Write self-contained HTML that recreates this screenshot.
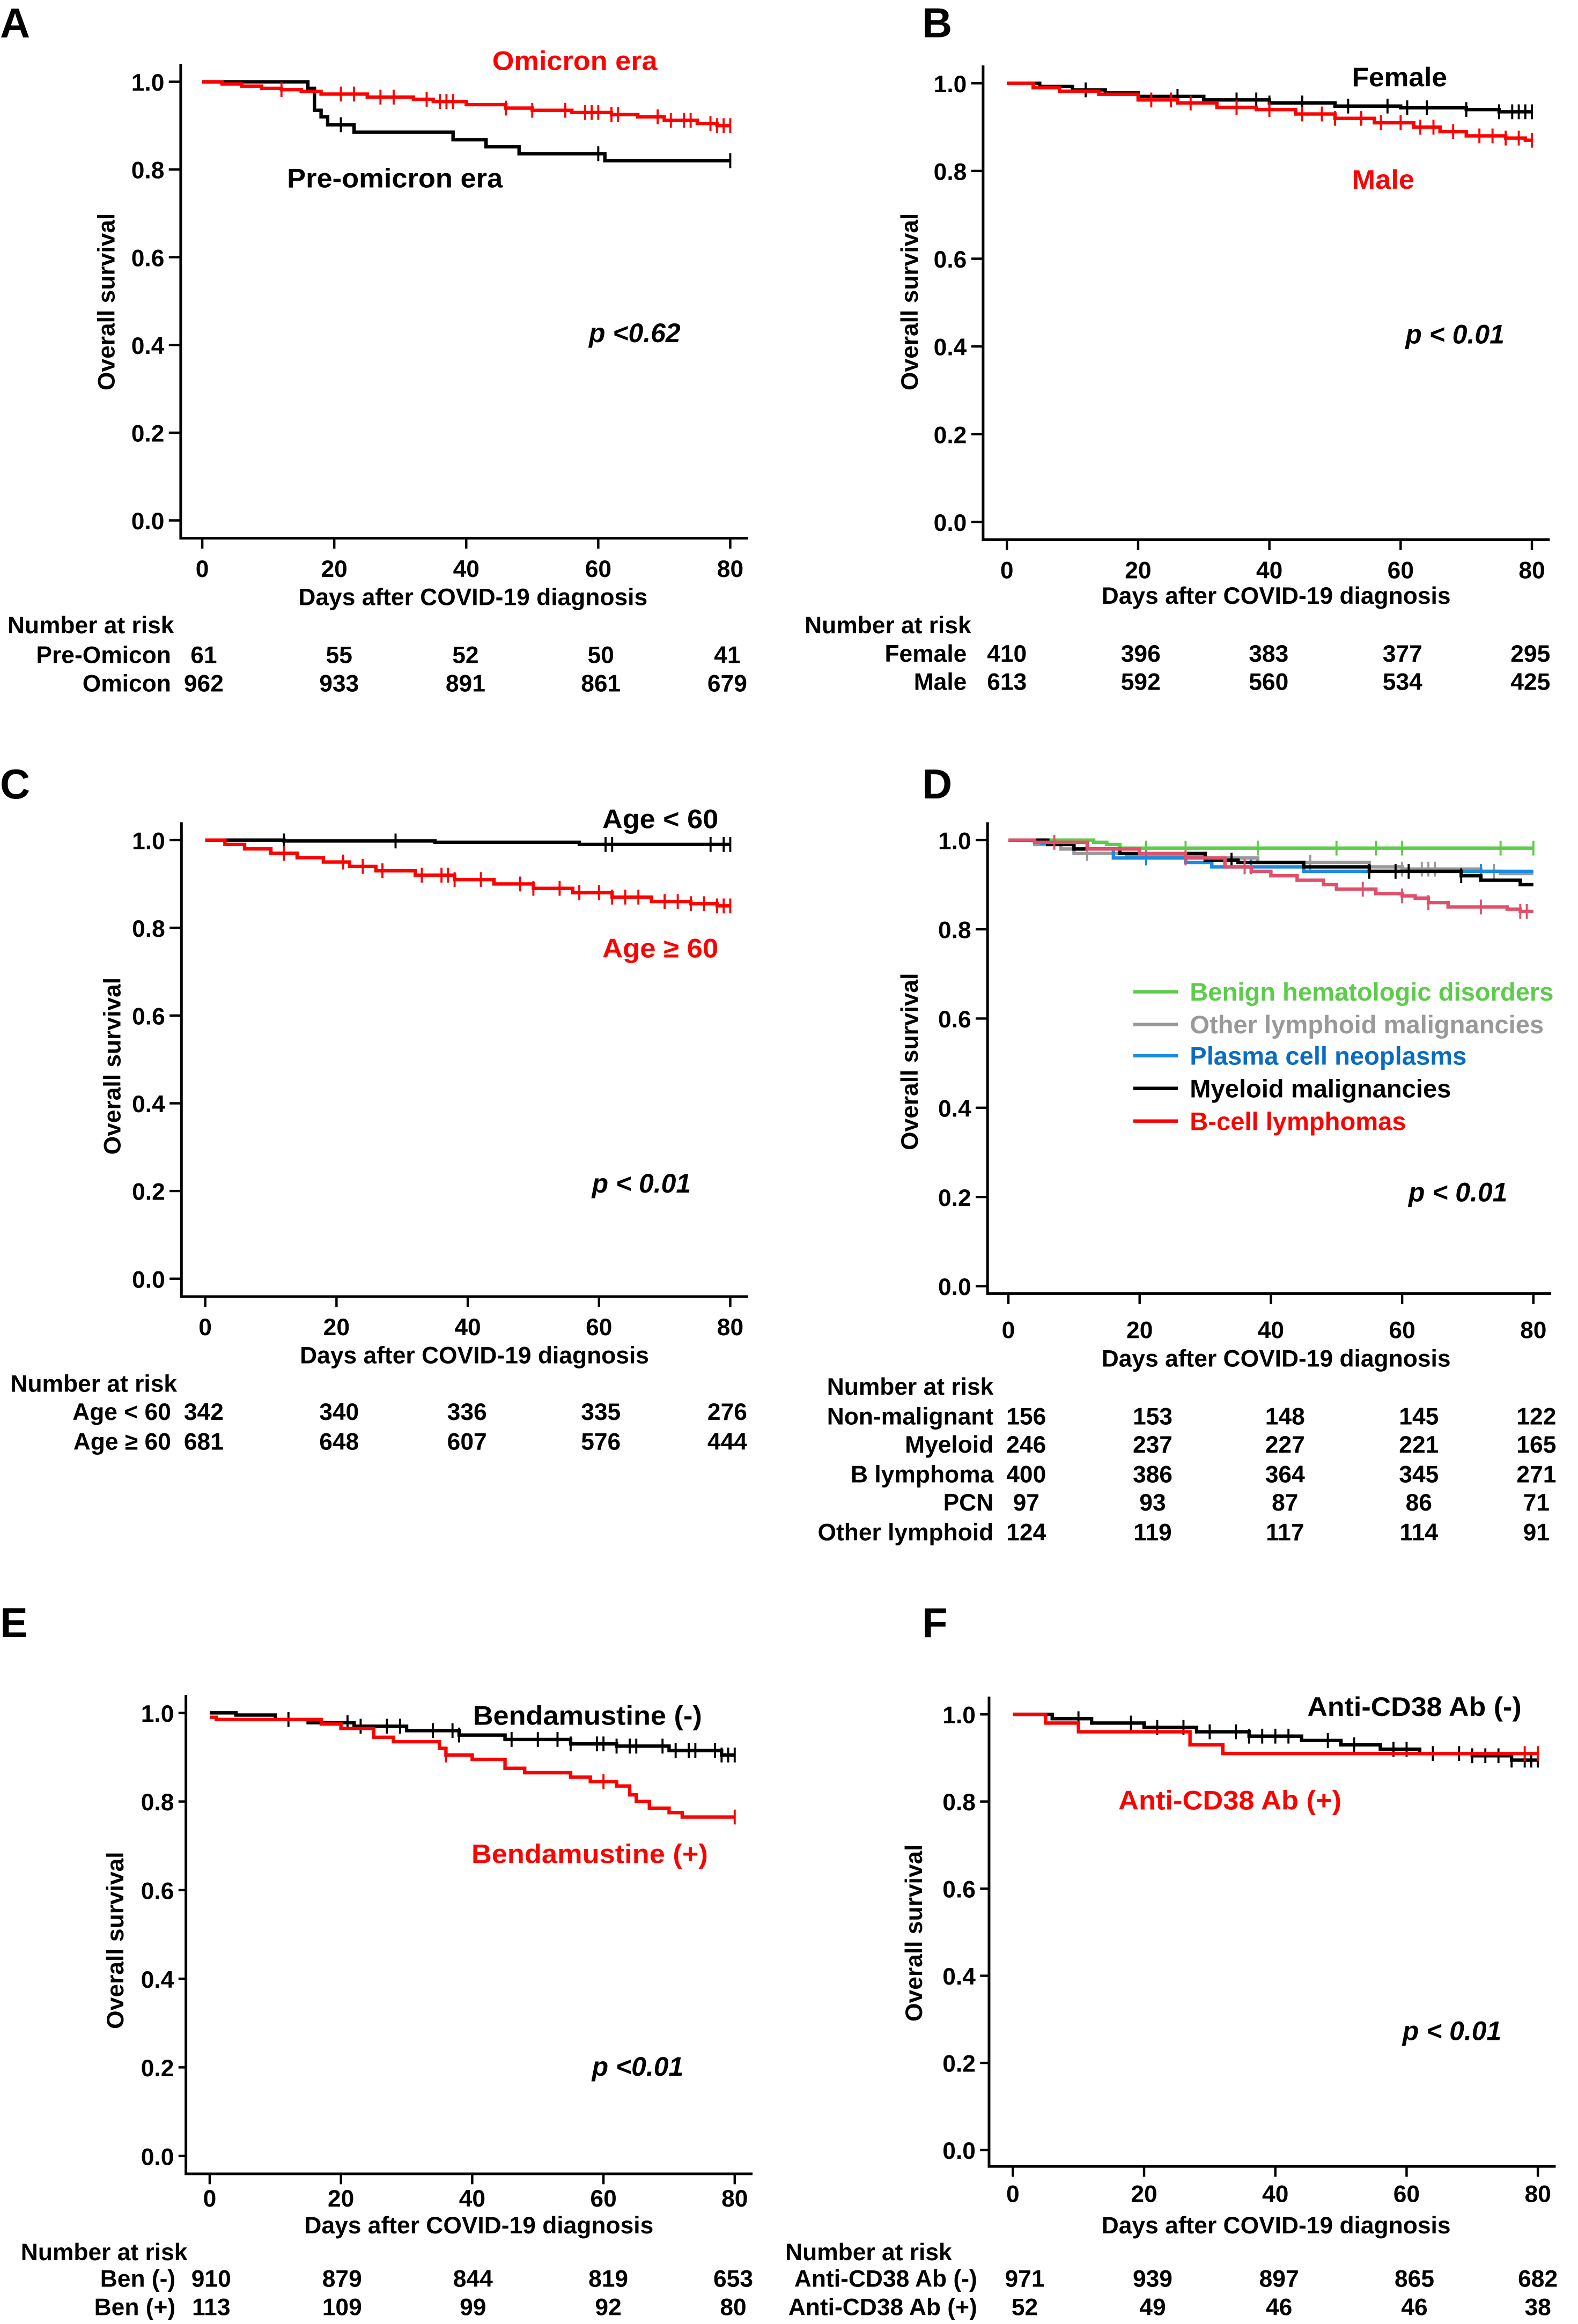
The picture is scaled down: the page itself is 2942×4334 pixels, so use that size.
<!DOCTYPE html>
<html><head><meta charset="utf-8">
<style>
html,body{margin:0;padding:0;background:#fff;}
svg{display:block;}
text{font-family:"Liberation Sans",Arial,sans-serif;font-weight:bold;}
</style></head>
<body>
<svg id="fig" width="2942" height="4334" viewBox="0 0 1061 1563" preserveAspectRatio="none" xmlns="http://www.w3.org/2000/svg"></svg>
<script>
// ---- data ----
const xTicks = [0, 20, 40, 60, 80];
const yTicks = [0, 0.2, 0.4, 0.6, 0.8, 1.0];
const yTickLabels = ["0.0","0.2","0.4","0.6","0.8","1.0"];

const aOmiT = [0,3,6,9,12,15,18,25,32,35,40,46,50,56,62,66,70,75,78];
const aOmiS = [1,0.995,0.99,0.985,0.982,0.978,0.972,0.965,0.96,0.955,0.948,0.94,0.935,0.93,0.925,0.92,0.912,0.905,0.9];
const aOmiC = [12,21,23,27,29,34,36,37,38,46,50,55,58,59,60,62,63,69,71,73,74,77,78,79,80];
const aPreT = [0,16,17,18,19,23,38,43,48,61];
const aPreS = [1,0.985,0.935,0.92,0.902,0.885,0.868,0.852,0.836,0.82];
const aPreC = [21,60,80];

const bFemT = [0,5,10,15,20,30,40,50,60,70,75];
const bFemS = [1,0.993,0.985,0.978,0.97,0.962,0.955,0.948,0.944,0.94,0.935];
const bFemC = [12,26,35,38,40,45,52,58,61,64,70,75,77,78,79,80];
const bMalT = [0,4,8,14,20,26,32,38,44,50,56,62,66,70,76,79];
const bMalS = [1,0.99,0.982,0.975,0.962,0.955,0.945,0.94,0.93,0.92,0.91,0.9,0.89,0.88,0.875,0.87];
const bMalC = [22,25,28,35,40,45,48,50,54,57,60,63,65,68,72,74,76,78,80];

const cYoungT = [0,12,35,57];
const cYoungS = [1,0.998,0.995,0.99];
const cYoungC = [12,29,61,62,77,79,80];
const cOldT = [0,3,6,10,14,18,22,26,32,38,44,50,56,62,68,74,78];
const cOldS = [1,0.99,0.98,0.97,0.96,0.95,0.94,0.93,0.92,0.91,0.9,0.89,0.88,0.87,0.86,0.855,0.85];
const cOldC = [12,21,24,27,33,36,37,38,42,48,50,54,57,60,62,64,66,70,72,74,76,78,79,80];

const dGreenT = [0,13,15,17];
const dGreenS = [1,0.995,0.99,0.982];
const dGreenC = [21,27,38,50,56,60,75,80];
const dGrayT = [0,4,8,10,18,30,38,55,60,72,75];
const dGrayS = [1,0.99,0.98,0.97,0.965,0.96,0.95,0.94,0.935,0.93,0.925];
const dGrayC = [12,46,60,63,64,65,74];
const dBlueT = [0,5,10,16,27,31,45,70];
const dBlueS = [1,0.993,0.98,0.96,0.95,0.94,0.93,0.93];
const dBlueC = [21,37,72];
const dBlackT = [0,6,10,17,30,35,45,55,69,72,78];
const dBlackS = [1,0.99,0.98,0.97,0.955,0.95,0.94,0.93,0.92,0.91,0.9];
const dBlackC = [34,55,59,61,69];
const dRedT = [0,4,12,20,27,33,37,40,44,48,50,56,60,62,64,67,76,78];
const dRedS = [1,0.995,0.98,0.97,0.96,0.94,0.93,0.92,0.91,0.9,0.89,0.88,0.875,0.87,0.86,0.85,0.845,0.84];
const dRedC = [7,27,36,54,60,64,72,78,79];

const eNegT = [0,4,10,15,22,30,38,45,55,62,70,78];
const eNegS = [1,0.995,0.985,0.978,0.97,0.96,0.95,0.94,0.93,0.925,0.915,0.905];
const eNegC = [12,21,23,27,29,34,37,38,46,50,53,55,59,60,62,64,65,69,71,73,74,77,78,79,80];
const ePosT = [0,1,17,20,25,28,35,36,40,45,48,55,58,62,64,65,67,70,72];
const ePosS = [0.99,0.985,0.975,0.965,0.945,0.935,0.92,0.905,0.895,0.875,0.865,0.855,0.845,0.835,0.815,0.8,0.785,0.775,0.765];
const ePosC = [36,60,80];

const fNegT = [0,6,12,20,28,36,44,50,56,62,70,76];
const fNegS = [1,0.99,0.98,0.97,0.96,0.95,0.94,0.93,0.92,0.91,0.905,0.895];
const fNegC = [10,18,22,26,30,34,36,38,40,42,48,52,58,60,64,68,70,72,74,76,78,79,80];
const fPosT = [0,5,10,27,32];
const fPosS = [1,0.98,0.96,0.93,0.91];
const fPosC = [78,80];

const riskA = [["Pre-Omicon",[61,55,52,50,41]],["Omicon",[962,933,891,861,679]]];
const riskB = [["Female",[410,396,383,377,295]],["Male",[613,592,560,534,425]]];
const riskC = [["Age < 60",[342,340,336,335,276]],["Age \u2265 60",[681,648,607,576,444]]];
const riskD = [["Non-malignant",[156,153,148,145,122]],["Myeloid",[246,237,227,221,165]],["B  lymphoma",[400,386,364,345,271]],["PCN",[97,93,87,86,71]],["Other lymphoid",[124,119,117,114,91]]];
const riskE = [["Ben (-)",[910,879,844,819,653]],["Ben (+)",[113,109,99,92,80]]];
const riskF = [["Anti-CD38 Ab (-)",[971,939,897,865,682]],["Anti-CD38 Ab (+)",[52,49,46,46,38]]];

// ---- drawing ----
const svg = document.getElementById('fig');
const NS = 'http://www.w3.org/2000/svg';
function mk(tag, attrs, parent){
  const e = document.createElementNS(NS, tag);
  for (const k in attrs) e.setAttribute(k, attrs[k]);
  (parent||svg).appendChild(e);
  return e;
}
function txt(str, x, y, size, opts, parent){
  const e = mk('text', Object.assign({x:x, y:y, 'font-size':size}, opts||{}), parent);
  e.textContent = str;
  return e;
}

const panels = [
 {id:'a', L:'A', lx:0, ly:25, ax:121.5, y1:55, y0:350, x0:136, x80:491, bot:362, tickLen:8, xlo:26,
  ytx:71, yty:203, xtx:318, xty:401, risk:riskA, rtx:5, rty:420, rnx:115, ry:[440,459], rcols:[137,228,313,404,489],
  p:['p','<0.62',396,230],
  series:[[aPreT,aPreS,aPreC,'#000','pre-omicron'],[aOmiT,aOmiS,aOmiC,'#f00','omicron']],
  labels:[['Omicron era',331,47,'#f00',111],['Pre-omicron era',193,126,'#000',145]]},
 {id:'b', L:'B', lx:620, ly:25, ax:661, y1:56, y0:351, x0:677, x80:1030, bot:363, tickLen:8, xlo:26,
  ytx:611, yty:203, xtx:858, xty:400, risk:riskB, rtx:541, rty:420, rnx:650, ry:[439,458], rcols:[677,767,853,943,1029],
  p:['p','< 0.01',945,231],
  series:[[bFemT,bFemS,bFemC,'#000','female'],[bMalT,bMalS,bMalC,'#f00','male']],
  labels:[['Female',909,58,'#000',64],['Male',909,127,'#f00',42]]},
 {id:'c', L:'C', lx:0, ly:537, ax:122, y1:565, y0:860, x0:138, x80:491, bot:872, tickLen:8, xlo:26,
  ytx:75, yty:717, xtx:319, xty:911, risk:riskC, rtx:7, rty:930, rnx:115, ry:[949,969], rcols:[137,228,314,404,489],
  p:['p','< 0.01',398,802],
  series:[[cYoungT,cYoungS,cYoungC,'#000','age-under-60'],[cOldT,cOldS,cOldC,'#f00','age-60-plus']],
  labels:[['Age < 60',405,557,'#000',78],['Age \u2265 60',405,644,'#f00',78]]},
 {id:'d', L:'D', lx:620, ly:537, ax:664, y1:565, y0:865, x0:678, x80:1031, bot:870, tickLen:8, xlo:30,
  ytx:611, yty:714, xtx:858, xty:913, risk:riskD, rtx:556, rty:932, rnx:668, ry:[952,971,991,1010,1030], rcols:[690,775,864,954,1033],
  p:['p','< 0.01',947,808],
  series:[[dGreenT,dGreenS,dGreenC,'#5ccc4a','benign'],[dGrayT,dGrayS,dGrayC,'#999','other-lymphoid'],[dBlueT,dBlueS,dBlueC,'#1a8ce0','plasma-cell'],[dBlackT,dBlackS,dBlackC,'#000','myeloid'],[dRedT,dRedS,dRedC,'#e0506a','b-cell']],
  labels:[]},
 {id:'e', L:'E', lx:0, ly:1101, ax:125, y1:1152, y0:1450, x0:141, x80:494, bot:1462, tickLen:5, xlo:22,
  ytx:77, yty:1305, xtx:322, xty:1496, risk:riskE, rtx:14, rty:1514, rnx:118, ry:[1532,1551], rcols:[142,230,318,409,493],
  p:['p','<0.01',398,1396],
  series:[[eNegT,eNegS,eNegC,'#000','bendamustine-neg'],[ePosT,ePosS,ePosC,'#f00','bendamustine-pos']],
  labels:[['Bendamustine (-)',318,1160,'#000',154],['Bendamustine (+)',317,1253,'#f00',159]]},
 {id:'f', L:'F', lx:620, ly:1101, ax:665, y1:1153, y0:1446, x0:681, x80:1034, bot:1457, tickLen:6, xlo:24,
  ytx:614, yty:1300, xtx:858, xty:1496, risk:riskF, rtx:528, rty:1514, rnx:657, ry:[1532,1551], rcols:[689,775,860,951,1034],
  p:['p','< 0.01',943,1372],
  series:[[fNegT,fNegS,fNegC,'#000','anti-cd38-neg'],[fPosT,fPosS,fPosC,'#f00','anti-cd38-pos']],
  labels:[['Anti-CD38 Ab (-)',879,1154,'#000',144],['Anti-CD38 Ab (+)',752,1217,'#f00',150]]}
];

panels.forEach(P => {
  const g = mk('g', {});
  
  
  const X = t => P.x0 + (P.x80 - P.x0) * t / 80;
  const Y = s => P.y0 - (P.y0 - P.y1) * s;

  const lt = txt(P.L, P.lx, P.ly, 28, {}, g);
  
  

  const axis = mk('path', {d:`M${P.ax},${P.y1-12}V${P.bot}H${P.x80+12}`, fill:'none', stroke:'#000', 'stroke-width':1.8}, g);
  
  
  yTicks.forEach((v,i) => {
    const tk = mk('line', {x1:P.ax-P.tickLen, x2:P.ax, y1:Y(v), y2:Y(v), stroke:'#000', 'stroke-width':1.6}, g);
    
    
    const tl = txt(yTickLabels[i], P.ax-P.tickLen-3, Y(v)+6, 16, {'text-anchor':'end'}, g);
    
    
  });
  xTicks.forEach(v => {
    const tk = mk('line', {x1:X(v), x2:X(v), y1:P.bot, y2:P.bot+7, stroke:'#000', 'stroke-width':1.6}, g);
    
    
    const tl = txt(String(v), X(v), P.bot+P.xlo, 16, {'text-anchor':'middle'}, g);
    
    
  });
  const yt = txt('Overall survival', 0, 0, 16, {'text-anchor':'middle', transform:`translate(${P.ytx+6},${P.yty}) rotate(-90)`}, g);
  
  
  const xt = txt('Days after COVID-19 diagnosis', P.xtx, P.xty+6, 16, {'text-anchor':'middle'}, g);
  
  

  P.series.forEach(([T,S,C,col,nm]) => {
    let d = `M${X(T[0])},${Y(S[0])}`;
    for (let i=1;i<T.length;i++){ d += `H${X(T[i])}V${Y(S[i])}`; }
    d += `H${X(80)}`;
    const path = mk('path', {d:d, fill:'none', stroke:col, 'stroke-width':2.3, 'stroke-linejoin':'miter'}, g);
    
    
    const sAt = t => { let s=S[0]; for (let i=0;i<T.length;i++) if (T[i]<=t) s=S[i]; return s; };
    C.forEach(t => {
      const cx = X(t), cy = Y(sAt(t));
      const cm = mk('line', {x1:cx, x2:cx, y1:cy-5, y2:cy+5, stroke:col, 'stroke-width':1.4}, g);
      
      
    });
  });

  P.labels.forEach(([s,x,y,col,w]) => {
    const l = txt(s, x, y, 18, {fill:col, textLength:w, lengthAdjust:'spacingAndGlyphs'}, g);
    
    
  });

  const pv = mk('text', {x:P.p[2], y:P.p[3], 'font-size':18, 'font-style':'italic'}, g);
  pv.textContent = P.p[0] + ' ' + P.p[1];
  
  

  const rt = txt('Number at risk', P.rtx, P.rty+6, 16, {}, g);
  
  
  P.risk.forEach(([name, vals], ri) => {
    const y = P.ry[ri] + 6;
    const rn = txt(name, P.rnx, y, 16, {'text-anchor':'end', 'xml:space':'preserve'}, g);
    
    
    vals.forEach((v, ci) => {
      const rv = txt(String(v), P.rcols[ci], y, 16, {'text-anchor':'middle'}, g);
      
      
    });
  });
});

const legItems = [['Benign hematologic disorders','#5ccc4a','#5ccc4a'],['Other lymphoid malignancies','#999','#999'],['Plasma cell neoplasms','#1a8ce0','#0a6cc0'],['Myeloid malignancies','#000','#000'],['B-cell lymphomas','#f00','#f00']];
const legY = [667, 689, 710, 732, 754];
const lg = mk('g', {});


legItems.forEach(([s,lc,tc], i) => {
  const ln = mk('line', {x1:762, x2:792, y1:legY[i], y2:legY[i], stroke:lc, 'stroke-width':2.3}, lg);
  
  
  const t = txt(s, 800, legY[i]+6, 17, {fill:tc}, lg);
  
  
});
</script>
</body></html>
